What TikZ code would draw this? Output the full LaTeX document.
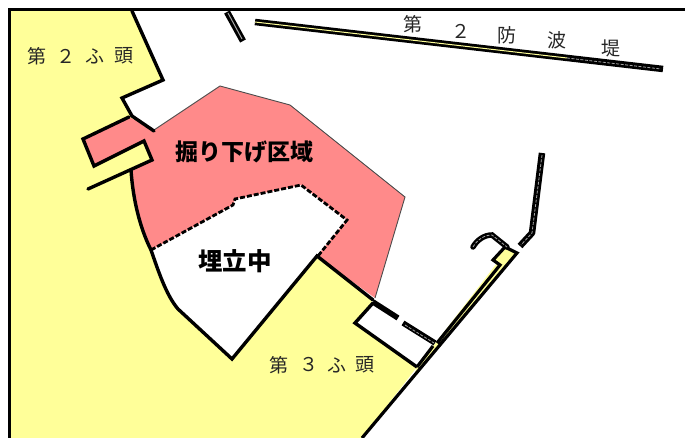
\documentclass[tikz,border=0pt]{standalone}
\usepackage{fontspec}
\newfontfamily\cjk{Noto Sans CJK JP}
\definecolor{landyellow}{RGB}{255,255,153}
\definecolor{digpink}{RGB}{255,138,138}
\tikzset{
  land/.style={fill=landyellow,draw=none},
  coast/.style={draw=black,line width=3.4pt,line join=miter,line cap=round},
  thin coast/.style={draw=black,line width=3.2pt,line join=miter},
  wallblack/.style={draw=black,line width=6.5pt},
  wallcore/.style={draw=landyellow,line width=1pt},
  wallgray/.style={draw=black!35,line width=.8pt,dash pattern=on 3pt off 1.5pt},
  label/.style={font=\cjk\fontsize{19}{19}\selectfont,text=black!85,inner sep=0pt},
  boldlabel/.style={font=\cjk\bfseries\fontsize{23}{23}\selectfont,text=black,inner sep=0pt},
  bigbold/.style={font=\cjk\bfseries\fontsize{24.5}{24.5}\selectfont,text=black,inner sep=0pt},
}
\begin{document}
\begin{tikzpicture}[x=1pt,y=-1pt]
\useasboundingbox (0,0) rectangle (685,438);
\fill[white] (0,0) rectangle (685,438);
% land
\fill[land] (9,10) -- (132,10) -- (163,80) -- (122,98) -- (132,116) -- (154,131) -- (152,160) -- (131,170)
  .. controls (133,200) and (140,228) .. (151,250) .. controls (158,270) and (166,295) .. (178,309)
  -- (232,359) -- (317,256) -- (373,300) -- (355,323) -- (417,367) -- (362,438) -- (9,438) -- cycle;
% dredged area
\fill[digpink] (154,130) -- (220,86) -- (290,105) -- (405,197) -- (375,298) -- (317,256) -- (347,220)
  -- (301,185) -- (235,199) -- (233,205) -- (151,250)
  .. controls (140,228) and (133,200) .. (131,170) -- (152,160) -- (144,141) -- (94,166) -- (83,139) -- (129,117) -- cycle;
\draw[draw=black!70,line width=.9pt] (154,130) -- (220,86) -- (290,105) -- (405,197) -- (375,298);
% frame
\draw[black,line width=3pt] (9,438) -- (9,10) -- (685,10);
% quay lines
\draw[coast] (132,11) -- (163,80) -- (122,98) -- (132,116) -- (154,131);
\draw[coast] (129,117) -- (83,139) -- (94,166) -- (144,141) -- (152,160) -- (88,189);
\draw[coast] (131,170) .. controls (133,200) and (140,228) .. (151,250) .. controls (158,270) and (166,295) .. (178,309) -- (232,359) -- (317,256) -- (373,300);
\draw[coast] (373,303) -- (355,323) -- (417,367);
% dashed fill line
\draw[black,line width=2.8pt,dash pattern=on 5pt off 2pt] (151,250) -- (233,205) -- (235,199) -- (301,185) -- (347,220) -- (318,256);
% seawall
\fill[landyellow] (417,367) -- (497,263) -- (493,260) -- (505,247) -- (517,253) -- (412,380) -- cycle;
\draw[thin coast] (437,343) -- (500,265) -- (493,260) -- (505,247) -- (517,253) -- (362,438);
\draw[thin coast] (417,367) -- (433,346);
% seawall outer hook
\draw[black,line width=5.5pt,line cap=round] (473,247) .. controls (477,240) and (484,235) .. (492,235) -- (507,247);
\draw[wallgray] (473,247) .. controls (477,240) and (484,235) .. (492,235) -- (507,247);
% breakwaters
\draw[wallblack] (255,22) -- (663,69);
\draw[wallcore] (255,22) -- (567,58);
\draw[wallgray] (567,58) -- (661,69);
\draw[black,line width=6.5pt] (227,12) -- (243,41);
\draw[draw=black!35,line width=1pt] (228,13) -- (242,39);
\draw[black,line width=6.5pt,line join=round] (542,153) -- (532,233) -- (520,246);
\draw[wallgray] (542,155) -- (532,233) -- (521,245);
\draw[black,line width=5.5pt] (373,302) -- (398,318);
\draw[black,line width=5.5pt] (403,323) -- (435,343);
\draw[wallgray] (405,325) -- (434,343);
% labels
\node[label] (t2a) at (37,56) {第};
\node[label] (t2b) at (66,56) {２};
\node[label] (t2c) at (95,56) {ふ};
\node[label] (t2d) at (124,56) {頭};
\node[label] (t3a) at (279,365) {第};
\node[label] (t3b) at (309,365) {３};
\node[label] (t3c) at (337,365) {ふ};
\node[label] (t3d) at (365,365) {頭};
\node[label] (wa) at (413,24) {第};
\node[label] (wb) at (461,31) {２};
\node[label] (wc) at (507,35) {防};
\node[label] (wd) at (557,40) {波};
\node[label] (we) at (611,48) {堤};
\node[boldlabel] (dig) at (244,152) {掘り下げ区域};
\node[bigbold] (fillarea) at (235,261) {埋立中};
\end{tikzpicture}
\end{document}
